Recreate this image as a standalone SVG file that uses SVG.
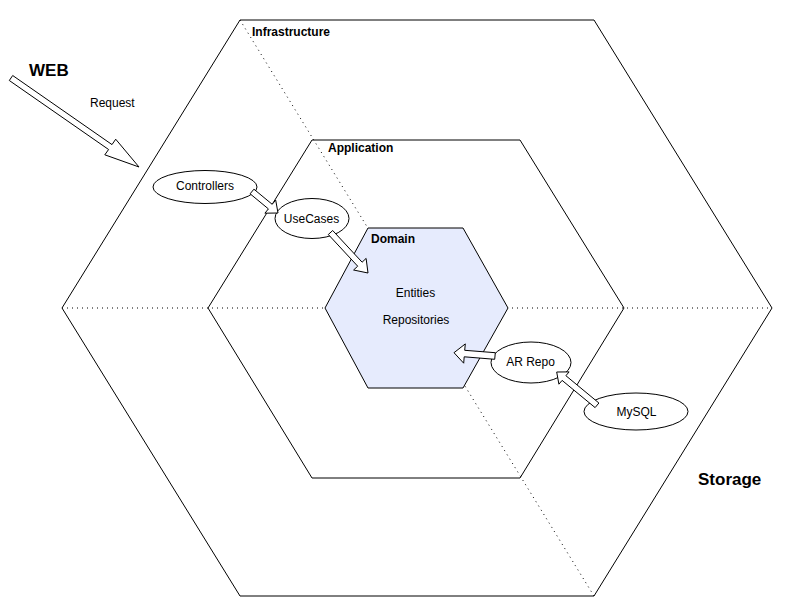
<svg xmlns="http://www.w3.org/2000/svg" width="788" height="600" viewBox="0 0 788 600">
<style>
.hex{fill:none;stroke:#000;stroke-width:1}
.dot{fill:none;stroke:#000;stroke-width:1;stroke-dasharray:1 4}
.node{fill:#fff;stroke:#000;stroke-width:1}
.arrow{fill:#fff;stroke:#000;stroke-width:1;stroke-linejoin:miter}
.lbl{font-family:"Liberation Sans",Arial,Helvetica,sans-serif;font-size:12px;fill:#000}
.ttl{font-family:"Liberation Sans",Arial,Helvetica,sans-serif;font-size:12px;font-weight:bold;fill:#000}
.big{font-family:"Liberation Sans",Arial,Helvetica,sans-serif;font-size:17px;font-weight:bold;fill:#000}
</style>
<rect width="788" height="600" fill="#fff"/>
<g id="infrastructure">
<polygon class="hex" points="240,20 594,20 772,308 594,596 240,596 62,308"/>
<text class="ttl" x="252" y="36">Infrastructure</text>
</g>
<g id="application">
<polygon class="hex" points="312,140 520,140 624,308 520,478 312,478 208,308"/>
<text class="ttl" x="328" y="152">Application</text>
</g>
<g id="dividers">
<line class="dot" x1="62" y1="308" x2="772" y2="308"/>
<line class="dot" x1="240" y1="20" x2="594" y2="596"/>
</g>
<g id="domain">
<polygon points="368,228 463,228 508,308 463,388 368,388 325,308" fill="#E6EBFD" stroke="#000" stroke-width="1"/>
<text class="ttl" x="371" y="242.5">Domain</text>
<text class="lbl" x="415.5" y="296.5" text-anchor="middle">Entities</text>
<text class="lbl" x="416" y="324" text-anchor="middle">Repositories</text>
</g>
<g id="web">
<text class="big" x="29" y="76">WEB</text>
<text class="lbl" x="90" y="107">Request</text>
</g>
<g id="storage">
<text class="big" x="698" y="485">Storage</text>
</g>
<g id="controllers">
<ellipse class="node" cx="205" cy="187" rx="52" ry="16.5"/>
<text class="lbl" x="205" y="190" text-anchor="middle">Controllers</text>
</g>
<g id="usecases">
<ellipse class="node" cx="312" cy="218.5" rx="37" ry="20"/>
<text class="lbl" x="311.5" y="222.5" text-anchor="middle">UseCases</text>
</g>
<g id="arrepo">
<ellipse class="node" cx="531" cy="362.5" rx="40" ry="20.5"/>
<text class="lbl" x="530.5" y="366" text-anchor="middle">AR Repo</text>
</g>
<g id="mysql">
<ellipse class="node" cx="636" cy="411.5" rx="52" ry="18.5"/>
<text class="lbl" x="636.5" y="415.5" text-anchor="middle">MySQL</text>
</g>
<g id="connectors">
<polygon class="arrow" points="9.3,80.5 108.6,149.5 104.8,154.8 139,167 115.7,139.2 112,144.6 12.7,75.5"/>
<polygon class="arrow" points="250.1,193.8 268.4,208.9 264.9,213.2 278,213 275.7,200.1 272.2,204.3 253.9,189.2"/>
<polygon class="arrow" points="328.3,234.5 357.7,266.2 353.6,270 368,273 366.1,258.4 362.1,262.2 332.7,230.5"/>
<polygon class="arrow" points="495.3,352.7 464.7,350.3 465.3,343.9 454,352.7 463.7,363.2 464.2,356.8 494.7,359.3"/>
<polygon class="arrow" points="598.9,403 565.9,375.7 569.1,371.9 556.7,372 558.9,384.2 562.1,380.4 595.1,407.6"/>
</g>
</svg>
